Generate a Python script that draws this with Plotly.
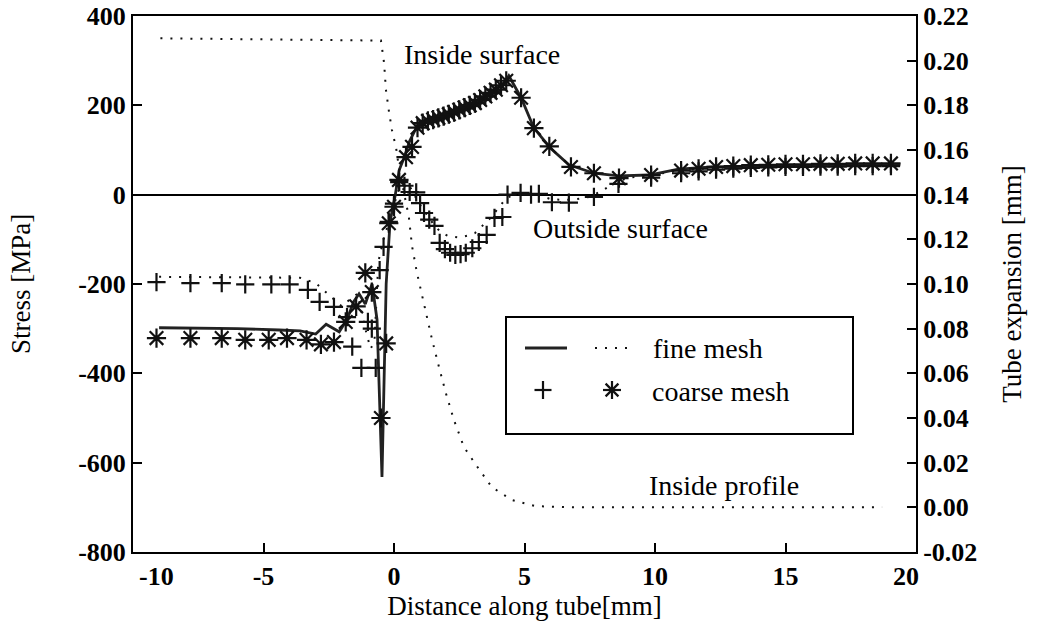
import plotly.graph_objects as go

# ---- data -------------------------------------------------------------
# Fine mesh, inside surface stress [MPa]
in_fine_x = [-9.0, -6.0, -4.4, -3.6, -3.0, -2.6, -2.1, -1.8, -1.55, -1.34, -1.1, -0.84,
             -0.65, -0.46, -0.3, -0.15, 0.05, 0.2, 0.4, 0.6, 0.9, 1.1, 1.5, 2.0, 2.5, 3.0,
             3.5, 4.0, 4.4, 4.87, 5.36, 6.0, 6.7, 7.66, 8.6, 9.77, 10.9, 12.2, 14.75, 17.0, 19.4]
in_fine_s = [-298, -300, -303, -305, -312, -290, -307, -280, -240, -222, -245, -200,
             -280, -632, -200, -60, 0, 55, 85, 120, 155, 163, 167, 174, 185, 194,
             210, 228, 266, 217, 149, 104, 67, 48, 42, 44, 57, 62, 64, 65, 67]

# Fine mesh, outside surface stress [MPa]
out_fine_x = [-9.0, -6.0, -3.6, -3.0, -2.7, -2.3, -2.0, -1.7, -1.4, -1.1, -0.9, -0.75,
              -0.6, -0.4, -0.2, 0.0, 0.2, 0.35, 0.5, 0.7, 0.9, 1.2, 1.5, 1.8, 2.1, 2.5,
              2.8, 3.1, 3.4, 3.7, 4.0, 4.3, 4.6, 5.0, 5.5, 6.0, 6.5, 7.0, 7.5, 8.0, 8.5,
              9.0, 9.8, 11.0, 13.0, 15.0, 17.0, 19.4]
out_fine_s = [-184, -185, -186, -198, -213, -235, -250, -235, -222, -300, -345, -330,
              -150, -100, -60, -20, 15, 28, 25, 10, -15, -40, -65, -85, -93, -96,
              -92, -86, -70, -52, -30, -8, 0, 2, 0, -10, -12, -10, -5, 10, 28,
              38, 43, 55, 62, 64, 65, 67]

# Coarse mesh, inside surface stress [MPa]
in_coarse_x = [-9.1, -7.8, -6.6, -5.7, -4.8, -4.1, -3.35, -2.8, -2.3, -1.85, -1.45, -1.1,
               -0.85, -0.5, -0.3, -0.2, 0.0, 0.19, 0.46, 0.69, 0.9, 1.1, 1.3, 1.5, 1.7,
               1.9, 2.1, 2.3, 2.5, 2.7, 2.9, 3.1, 3.3, 3.5, 3.7, 3.9, 4.1, 4.3, 4.87,
               5.36, 5.95, 6.78, 7.66, 8.62, 9.85, 11.0, 11.67, 12.34, 13.0, 13.67,
               14.34, 15.0, 15.67, 16.34, 17.0, 17.67, 18.34, 19.04]
in_coarse_s = [-321, -321, -321, -325, -325, -321, -325, -335, -330, -285, -250, -175,
               -218, -500, -333, -64, -27, 33, 84, 107, 150, 160, 165, 168, 172,
               176, 180, 185, 190, 195, 200, 205, 212, 220, 228, 235, 245, 255, 217,
               149, 108, 62, 48, 37, 44, 54, 58, 62, 64, 66,
               67, 68, 68, 69, 69, 70, 70, 70]

# Coarse mesh, outside surface stress [MPa]
out_coarse_x = [-9.1, -7.8, -6.6, -5.7, -4.7, -4.0, -3.3, -2.85, -2.3, -1.8, -1.6, -1.25,
                -1.0, -0.85, -0.7, -0.55, -0.4, -0.2, 0.0, 0.2, 0.4, 0.6, 0.85, 1.0,
                1.15, 1.35, 1.55, 1.75, 1.95, 2.15, 2.35, 2.55, 2.75, 3.0, 3.25, 3.55,
                3.85, 4.15, 4.35, 4.85, 5.25, 5.55, 6.05, 6.7, 7.66, 8.6, 9.85, 11.0,
                11.67, 12.34, 13.0, 13.67, 14.34, 15.0, 15.67, 16.34, 17.0, 17.67,
                18.34, 19.04]
out_coarse_s = [-196, -198, -198, -201, -201, -201, -213, -240, -251, -274, -340, -388,
                -285, -300, -388, -169, -117, -61, -20, 28, 20, 6, 5, -19,
                -41, -56, -70, -108, -122, -130, -135, -133, -130, -120, -106, -90,
                -52, -50, 0, 4, 0, 2, -17, -18, -5, 24, 38, 48,
                52, 56, 58, 60, 61, 62, 62, 63, 63, 64, 64, 64]

# Fine mesh, inside profile (tube expansion) [mm]
profile_x = [-8.95, -0.5, -0.38, -0.31, -0.19, -0.08, 0.08, 0.19, 0.57, 0.69, 0.88, 1.03,
             1.23, 1.46, 1.72, 1.99, 2.3, 2.68, 3.14, 3.75, 4.52, 5.44, 7.09, 18.7]
profile_e = [0.210, 0.209, 0.199, 0.187, 0.177, 0.169, 0.161, 0.152, 0.130, 0.117, 0.105,
             0.097, 0.087, 0.075, 0.063, 0.051, 0.039, 0.027, 0.019, 0.009, 0.0033,
             0.0005, 0.0, 0.0]

x_ticks = [-10, -5, 0, 5, 10, 15, 20]
x_ticktext = ["-10", "-5", "0", "5", "10", "15", "20"]
s_ticks = [-800, -600, -400, -200, 0, 200, 400]
s_ticktext = ["-800", "-600", "-400", "-200", "0", "200", "400"]
e_ticks = [-0.02, 0.0, 0.02, 0.04, 0.06, 0.08, 0.10, 0.12, 0.14, 0.16, 0.18, 0.20, 0.22]
e_ticktext = ["-0.02", "0.00", "0.02", "0.04", "0.06", "0.08", "0.10", "0.12",
              "0.14", "0.16", "0.18", "0.20", "0.22"]

# ---- figure -----------------------------------------------------------
SERIF = "Liberation Serif, Times New Roman, serif"
INK = "#111111"
DOTS = "2px,8px"

W, H = 1037, 635
ML, MR, MT, MB = 133, 121, 16, 83

fig = go.Figure()

fig.add_trace(go.Scatter(x=out_fine_x, y=out_fine_s, mode="lines",
                         line=dict(color=INK, width=2, dash=DOTS), showlegend=False))
fig.add_trace(go.Scatter(x=in_fine_x, y=in_fine_s, mode="lines",
                         line=dict(color="#222222", width=2.8), showlegend=False))
fig.add_trace(go.Scatter(x=out_coarse_x, y=out_coarse_s, mode="markers",
                         marker=dict(symbol="cross-thin-open", size=13, color=INK,
                                     line=dict(width=2.2, color=INK)), showlegend=False))
fig.add_trace(go.Scatter(x=in_coarse_x, y=in_coarse_s, mode="markers",
                         marker=dict(symbol="asterisk-open", size=16, color=INK,
                                     line=dict(width=2.2, color=INK)), showlegend=False))
fig.add_trace(go.Scatter(x=profile_x, y=profile_e, mode="lines", yaxis="y2",
                         line=dict(color=INK, width=2, dash=DOTS), showlegend=False))

tickfont = dict(family=SERIF, size=26, color="black", weight="bold")
titlefont = dict(family=SERIF, size=27, color="black")

# the two end labels of the distance axis sit inside the frame, drawn below
inner_ticktext = ["" if i in (0, len(x_ticktext) - 1) else t
                  for i, t in enumerate(x_ticktext)]

fig.update_layout(
    width=W, height=H,
    margin=dict(l=ML, r=MR, t=MT, b=MB),
    paper_bgcolor="white", plot_bgcolor="white",
    showlegend=False,
    xaxis=dict(range=[-10, 20], tickvals=x_ticks, ticktext=inner_ticktext,
               ticks="inside", ticklen=9, tickwidth=2, tickcolor="black",
               showline=True, linewidth=2, linecolor="black", mirror=True,
               showgrid=False, zeroline=False, tickfont=tickfont, automargin=False,
               title=dict(text="Distance along tube[mm]", font=titlefont, standoff=2)),
    yaxis=dict(range=[-800, 400], tickvals=s_ticks, ticktext=s_ticktext,
               ticks="inside", ticklen=9, tickwidth=2, tickcolor="black",
               showline=True, linewidth=2, linecolor="black",
               showgrid=False, zeroline=True, zerolinecolor="black", zerolinewidth=1.5,
               tickfont=tickfont, automargin=False,
               title=dict(text="Stress [MPa]", font=titlefont, standoff=40)),
    yaxis2=dict(range=[-0.02, 0.22], tickvals=e_ticks, ticktext=e_ticktext,
                overlaying="y", side="right",
                ticks="inside", ticklen=9, tickwidth=2, tickcolor="black",
                showline=True, linewidth=2, linecolor="black",
                showgrid=False, zeroline=False, tickfont=tickfont, automargin=False,
                title=dict(text="Tube expansion [mm]", font=titlefont, standoff=26)),
)


def px(xp, yp):
    """Pixel position on the page -> paper coordinates of the plot area."""
    pw, ph = W - ML - MR, H - MT - MB
    return (xp - ML) / pw, (H - MB - yp) / ph


# end labels of the distance axis
lx, ly = px(137, 576)
fig.add_annotation(x=lx, y=ly, xref="paper", yref="paper", text=x_ticktext[0],
                   showarrow=False, xanchor="left", yanchor="middle", font=tickfont)
rx, ry = px(921, 576)
fig.add_annotation(x=rx, y=ry, xref="paper", yref="paper", text=x_ticktext[-1],
                   showarrow=False, xanchor="right", yanchor="middle", font=tickfont)

# curve labels
labelfont = dict(family=SERIF, size=28, color="black")
fig.add_annotation(x=0.3, y=313, xref="x", yref="y", text="Inside surface",
                   showarrow=False, xanchor="left", yanchor="middle", font=labelfont)
fig.add_annotation(x=5.25, y=-75, xref="x", yref="y", text="Outside surface",
                   showarrow=False, xanchor="left", yanchor="middle", font=labelfont)
fig.add_annotation(x=9.7, y=-650, xref="x", yref="y", text="Inside profile",
                   showarrow=False, xanchor="left", yanchor="middle", font=labelfont)


# ---- legend box drawn in plot-area (paper) coordinates ----------------
def seg(x0p, y0p, x1p, y1p, **line):
    a, b = px(x0p, y0p)
    c, d = px(x1p, y1p)
    fig.add_shape(type="line", xref="paper", yref="paper", x0=a, y0=b, x1=c, y1=d,
                  line=line)


bx0, by0 = px(506, 317)
bx1, by1 = px(853, 434)
fig.add_shape(type="rect", xref="paper", yref="paper", x0=bx0, y0=by1, x1=bx1, y1=by0,
              line=dict(color="black", width=2), fillcolor="white", layer="above")

# line samples
seg(525, 348, 567, 348, color="#222222", width=2.8)
seg(595, 348, 630, 348, color=INK, width=2, dash=DOTS)
# "+" sample
seg(534.5, 390, 551.5, 390, color=INK, width=2.2)
seg(543, 381, 543, 399, color=INK, width=2.2)
# asterisk sample
cx, cy, r, rd = 612, 390, 9, 6.4
seg(cx - r, cy, cx + r, cy, color=INK, width=2.2)
seg(cx, cy - r, cx, cy + r, color=INK, width=2.2)
seg(cx - rd, cy - rd, cx + rd, cy + rd, color=INK, width=2.2)
seg(cx - rd, cy + rd, cx + rd, cy - rd, color=INK, width=2.2)

for text, (tx, ty) in [("fine mesh", (651, 349)), ("coarse mesh", (650, 391))]:
    ax, ay = px(tx, ty)
    fig.add_annotation(x=ax, y=ay, xref="paper", yref="paper", text=text,
                       showarrow=False, xanchor="left", yanchor="middle", font=labelfont)

fig.write_html("out.html")
